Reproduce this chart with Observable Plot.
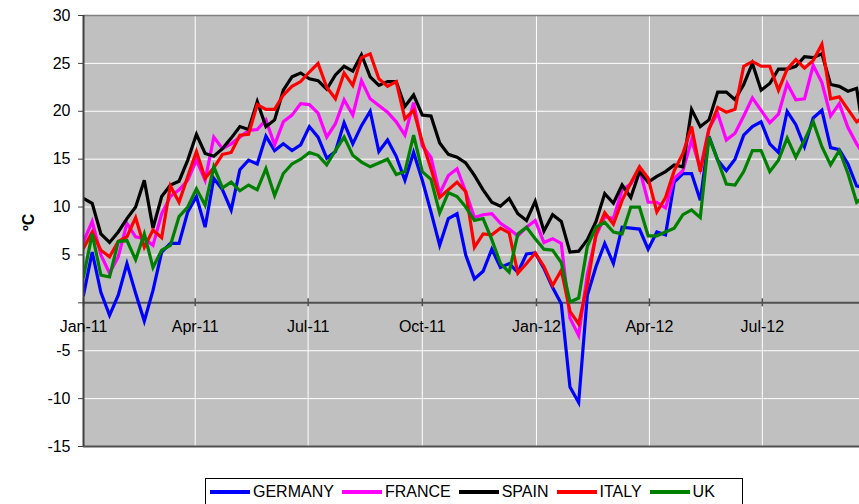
<!DOCTYPE html>
<html>
<head>
<meta charset="utf-8">
<script src="https://cdn.jsdelivr.net/npm/d3@7"></script>
<script src="https://cdn.jsdelivr.net/npm/@observablehq/plot@0.6"></script>
<style>
  body { margin: 0; background: #fff; font-family: "Liberation Sans", Arial, sans-serif; }
  #wrap { position: relative; width: 859px; height: 504px; overflow: hidden; }
  #chart { position: absolute; left: 0; top: 0; }
  #legend { position: absolute; left: 205px; top: 478px; width: 538px; height: 32px; border: 1px solid #000;
            box-sizing: border-box; padding: 4px 0 0 4px; display: flex; font-size: 16px; color: #000; }
  .item { display: flex; align-items: center; height: 18px; margin-right: 8px; white-space: nowrap; }
  .sw { display: inline-block; width: 40px; height: 4px; margin-right: 3px; }
</style>
</head>
<body>
<div id="wrap">
  <div id="chart"></div>
  <div id="legend"></div>
</div>
<script>
// ---- data (weekly, starting first week of Jan 2011) ----
const seriesNames = ["GERMANY", "FRANCE", "SPAIN", "ITALY", "UK"];
const seriesColors = ["#0000ff", "#ff00ff", "#000000", "#ff0000", "#008000"];
const startDate = "2011-01-01";

const germany = [0.8, 5.3, 1.1, -1.3, 0.8, 4.1, 1.0, -1.9, 1.3, 5.3, 6.2, 6.2, 9.5, 11.1, 7.9, 13.0, 11.8, 9.7, 13.9, 14.9,
  14.5, 17.4, 15.9, 16.6, 15.9, 16.5, 18.4, 17.3, 15.1, 15.8, 18.8, 16.6, 18.5, 20.0, 15.8, 17.0, 15.3, 12.8, 15.7, 12.8,
  9.5, 6.0, 8.8, 9.3, 5.0, 2.5, 3.3, 5.6, 3.7, 4.1, 3.2, 5.1, 5.2, 3.6, 1.6, -0.1, -8.8, -10.4, 0.8, 3.8,
  6.2, 4.1, 7.9, 7.8, 7.7, 5.6, 7.4, 7.1, 12.6, 13.5, 13.5, 10.7, 17.4, 14.9, 13.8, 15.0, 17.5, 18.4, 18.9, 16.6,
  15.7, 20.0, 18.6, 16.3, 19.3, 20.1, 16.2, 16.0, 14.5, 12.2, 12.0];
const france = [6.4, 8.5, 5.0, 3.1, 4.8, 8.3, 6.9, 6.7, 6.0, 9.3, 11.1, 11.8, 12.8, 14.9, 12.8, 17.3, 16.1, 16.6, 17.3, 18.0,
  18.1, 19.1, 16.5, 18.9, 19.6, 20.8, 20.7, 19.8, 17.3, 18.7, 21.2, 19.6, 23.2, 21.3, 20.6, 19.9, 18.9, 17.5, 20.9, 16.4,
  15.2, 11.4, 13.3, 14.0, 11.6, 8.9, 9.2, 9.3, 8.3, 7.7, 7.0, 7.9, 8.6, 6.3, 6.7, 6.2, -1.6, -3.4, 3.0, 7.0,
  9.0, 8.8, 11.8, 12.4, 14.0, 10.5, 10.5, 9.9, 13.0, 13.8, 17.0, 14.0, 18.2, 19.8, 17.0, 17.7, 19.5, 21.4, 20.1, 18.8,
  19.7, 22.9, 21.2, 21.3, 24.8, 23.0, 19.5, 20.8, 18.3, 16.6, 15.2];
const spain = [10.9, 10.4, 7.2, 6.3, 7.4, 8.8, 10.0, 12.8, 7.8, 11.1, 12.3, 12.7, 14.9, 17.6, 15.6, 15.3, 16.1, 17.2, 18.4, 18.1,
  21.0, 18.4, 19.1, 22.2, 23.6, 24.0, 23.4, 23.2, 22.3, 23.8, 24.7, 24.2, 25.9, 23.6, 22.7, 23.1, 23.1, 20.5, 21.7, 19.6,
  19.5, 16.7, 15.5, 15.2, 14.6, 13.3, 11.8, 10.5, 10.1, 10.9, 9.3, 8.6, 10.6, 7.5, 9.2, 8.5, 5.3, 5.4, 6.6, 8.5,
  11.4, 10.4, 12.3, 11.0, 13.7, 12.6, 13.2, 13.7, 14.4, 14.2, 20.2, 18.4, 19.1, 22.0, 22.0, 21.2, 22.8, 25.0, 22.2, 22.9,
  24.4, 24.4, 24.7, 25.7, 25.6, 26.0, 22.8, 22.6, 22.1, 22.4, 16.5];
const italy = [5.7, 7.4, 5.5, 4.8, 6.4, 6.9, 8.9, 5.8, 7.6, 6.8, 12.2, 10.5, 13.2, 15.8, 13.0, 14.1, 15.5, 15.7, 17.5, 17.6,
  20.7, 20.2, 20.2, 21.7, 22.6, 23.1, 24.1, 25.0, 22.5, 21.3, 24.0, 22.7, 25.6, 26.0, 23.4, 22.6, 23.1, 19.2, 20.1, 16.8,
  14.0, 11.0, 11.8, 12.6, 11.6, 5.8, 7.2, 7.1, 7.8, 7.3, 3.1, 4.1, 5.2, 3.8, 1.8, 3.4, -0.9, -2.2, 1.9, 7.2,
  9.4, 8.2, 10.7, 12.5, 14.2, 13.0, 9.5, 11.0, 13.8, 15.6, 18.4, 13.7, 18.1, 20.4, 19.9, 20.2, 24.7, 25.2, 24.7, 24.7,
  22.2, 24.4, 25.4, 24.5, 25.3, 27.0, 21.3, 21.5, 20.2, 18.9, 19.5];
const uk = [2.7, 7.2, 2.9, 2.7, 6.4, 6.5, 4.5, 7.2, 3.7, 5.5, 6.0, 9.0, 10.0, 11.9, 10.2, 14.2, 12.0, 12.6, 11.7, 12.3,
  11.8, 14.0, 11.2, 13.5, 14.5, 15.0, 15.7, 15.4, 14.4, 15.9, 17.3, 15.4, 14.7, 14.2, 14.6, 15.0, 13.4, 13.7, 17.5, 13.7,
  12.9, 9.4, 11.5, 11.1, 10.0, 8.6, 8.8, 6.6, 4.1, 3.2, 7.2, 7.9, 6.7, 5.6, 5.5, 4.2, 0.1, 0.5, 5.9, 7.9,
  8.4, 7.4, 7.2, 10.0, 10.0, 7.0, 7.0, 7.4, 7.8, 9.2, 9.7, 8.9, 17.3, 14.9, 12.4, 12.3, 13.7, 15.9, 15.9, 13.7,
  14.9, 17.2, 15.2, 17.0, 18.9, 16.3, 14.4, 15.9, 13.5, 10.5, 11.2];

const tickDates = ["2011-01-01", "2011-04-01", "2011-07-01", "2011-10-01", "2012-01-01", "2012-04-01", "2012-07-01"];
const tickLabels = ["Jan-11", "Apr-11", "Jul-11", "Oct-11", "Jan-12", "Apr-12", "Jul-12"];
const yTicks = [-15, -10, -5, 0, 5, 10, 15, 20, 25, 30];

// ---- build table ----
const DAY = 864e5;
const t0 = new Date(startDate + "T00:00:00Z").getTime();
const seriesValues = [germany, france, spain, italy, uk];
const rows = [];
seriesValues.forEach((vals, s) => vals.forEach((v, i) => rows.push({series: seriesNames[s], date: new Date(t0 + i * 7 * DAY), value: v})));
const ticks = tickDates.map(d => new Date(d + "T00:00:00Z"));
const xDomain = [new Date(t0), new Date(t0 + 625.3 * DAY)];

const font = "Liberation Sans, Arial, sans-serif";
const chart = Plot.plot({
  width: 859, height: 460,
  marginLeft: 83, marginRight: 0, marginTop: 15, marginBottom: 14,
  style: {fontFamily: font, fontSize: "16px", background: "transparent", overflow: "visible"},
  x: {type: "utc", domain: xDomain, axis: null},
  y: {domain: [-15, 30], axis: null},
  color: {domain: seriesNames, range: seriesColors},
  marks: [
    Plot.frame({fill: "#c0c0c0", stroke: "none"}),
    Plot.gridY({ticks: yTicks.filter(v => v !== 0 && v !== -15 && v !== 30), stroke: "#ffffff", strokeOpacity: 1, strokeWidth: 1}),
    Plot.gridX({ticks: ticks.slice(1), stroke: "#ffffff", strokeOpacity: 1, strokeWidth: 1}),
    Plot.ruleY([30], {stroke: "#808080", strokeWidth: 1.5}),
    Plot.ruleY([-15], {stroke: "#505050", strokeWidth: 2}),
    Plot.ruleY([0], {stroke: "#505050", strokeWidth: 2}),
    Plot.ruleX(ticks, {y1: 0, y2: 0, insetTop: -4, insetBottom: -4, stroke: "#505050", strokeWidth: 1.5}),
    ...seriesNames.map(name => Plot.line(rows.filter(r => r.series === name), {
      x: "date", y: "value", stroke: "series", strokeWidth: 3.2, strokeLinejoin: "miter", strokeMiterlimit: 4, clip: true
    })),
    Plot.ruleX([xDomain[0]], {stroke: "#404040", strokeWidth: 2}),
    Plot.axisY({ticks: yTicks, label: null, tickSize: 5, tickPadding: 8, stroke: "#404040", color: "#000", fill: "#000",
      tickFormat: d => d === 0 ? "" : String(d), fontSize: 16, fontFamily: font}),
    Plot.text(ticks, {x: d => d, y: 0, dy: 24, text: (d, i) => tickLabels[i], fill: "#000", fontSize: 16, fontFamily: font}),
    Plot.text(["ºC"], {frameAnchor: "left", dx: -55, rotate: -90, fontWeight: "bold", fill: "#000", fontSize: 16, fontFamily: font})
  ]
});
document.getElementById("chart").appendChild(chart);

// ---- legend ----
const legend = document.getElementById("legend");
seriesNames.forEach((name, i) => {
  const item = document.createElement("div");
  item.className = "item";
  const sw = document.createElement("span");
  sw.className = "sw";
  sw.style.background = seriesColors[i];
  item.appendChild(sw);
  item.appendChild(document.createTextNode(name));
  legend.appendChild(item);
});
</script>
</body>
</html>
